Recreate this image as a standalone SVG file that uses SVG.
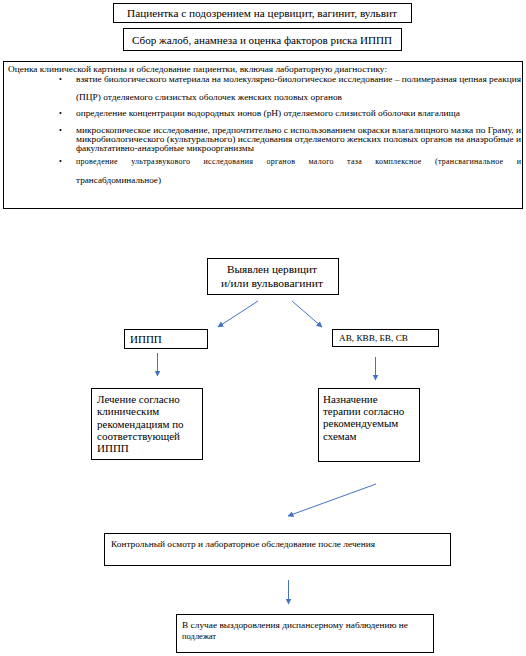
<svg xmlns="http://www.w3.org/2000/svg" width="526" height="656" viewBox="0 0 526 656">
<style>
.box{fill:#fff;stroke:#000;stroke-width:1}
.t{font-family:"Liberation Serif","DejaVu Serif","Times New Roman",serif;fill:#000}
.s11{font-size:11px}
.s9{font-size:8.5px}
.s8{font-size:8px}
.c{stroke:#4472C4;stroke-width:1;fill:none}
</style>
<defs>
<marker id="ah" viewBox="0 0 10 10" refX="9" refY="5" markerWidth="6" markerHeight="6" markerUnits="userSpaceOnUse" orient="auto">
<path d="M0,0 L10,5 L0,10 z" fill="#4472C4"/>
</marker>
</defs>
<rect width="526" height="656" fill="#fff"/>

<g id="n1">
<rect class="box" x="113.5" y="3.5" width="298" height="19"/>
<text class="t s11" x="127" y="17" textLength="270" lengthAdjust="spacingAndGlyphs">Пациентка с подозрением на цервицит, вагинит, вульвит</text>
</g>
<g id="n2">
<rect class="box" x="123.5" y="28.5" width="278" height="22"/>
<text class="t s11" x="132" y="43.5" textLength="260" lengthAdjust="spacingAndGlyphs">Сбор жалоб, анамнеза и оценка факторов риска ИППП</text>
</g>
<g id="n3">
<rect class="box" x="3.5" y="61.5" width="519" height="147"/>
<text class="t s8" x="8" y="71.5" textLength="379" lengthAdjust="spacingAndGlyphs">Оценка клинической картины и обследование пациентки, включая лабораторную диагностику:</text>
<text class="t s8" x="59" y="81.5">•</text>
<text class="t s8" x="76" y="81.5" textLength="445" lengthAdjust="spacingAndGlyphs">взятие биологического материала на молекулярно-биологическое исследование – полимеразная цепная реакция</text>
<text class="t s8" x="76" y="99.5" textLength="266" lengthAdjust="spacingAndGlyphs">(ПЦР) отделяемого слизистых оболочек женских половых органов</text>
<text class="t s8" x="59" y="116">•</text>
<text class="t s8" x="76" y="116" textLength="384" lengthAdjust="spacingAndGlyphs">определение концентрации водородных ионов (pH) отделяемого слизистой оболочки влагалища</text>
<text class="t s8" x="59" y="133">•</text>
<text class="t s8" x="76" y="133" textLength="445" lengthAdjust="spacingAndGlyphs">микроскопическое исследование, предпочтительно с использованием окраски влагалищного мазка по Граму, и</text>
<text class="t s8" x="76" y="142" textLength="445" lengthAdjust="spacingAndGlyphs">микробиологического (культурального) исследования отделяемого женских половых органов на анаэробные и</text>
<text class="t s8" x="76" y="151" textLength="178" lengthAdjust="spacingAndGlyphs">факультативно-анаэробные микроорганизмы</text>
<text class="t s8" x="59" y="164">•</text>
<text class="t s8" x="76" y="164" word-spacing="11" textLength="445" lengthAdjust="spacing">проведение ультразвукового исследования органов малого таза комплексное (трансвагинальное и</text>
<text class="t s8" x="76" y="183" textLength="85" lengthAdjust="spacingAndGlyphs">трансабдоминальное)</text>
</g>

<g id="n4">
<rect class="box" x="207.5" y="258.5" width="131" height="36"/>
<text class="t s11" x="227" y="273" textLength="90" lengthAdjust="spacingAndGlyphs">Выявлен цервицит</text>
<text class="t s11" x="221" y="287" textLength="102" lengthAdjust="spacingAndGlyphs">и/или вульвовагинит</text>
</g>
<g id="n5">
<rect class="box" x="124.5" y="329.5" width="83" height="19"/>
<text class="t s11" x="130" y="343">ИППП</text>
</g>
<g id="n6">
<rect class="box" x="332.5" y="329.5" width="106" height="17"/>
<text class="t s9" x="339" y="341" textLength="69" lengthAdjust="spacingAndGlyphs">АВ, КВВ, БВ, СВ</text>
</g>
<g id="n7">
<rect class="box" x="91.5" y="388.5" width="111" height="71"/>
<text class="t s11" x="97" y="403">Лечение согласно</text>
<text class="t s11" x="97" y="415">клиническим</text>
<text class="t s11" x="97" y="428">рекомендациям по</text>
<text class="t s11" x="97" y="440">соответствующей</text>
<text class="t s11" x="97" y="452">ИППП</text>
</g>
<g id="n8">
<rect class="box" x="318.5" y="388.5" width="101" height="73"/>
<text class="t s11" x="323" y="403">Назначение</text>
<text class="t s11" x="323" y="415">терапии согласно</text>
<text class="t s11" x="323" y="427">рекомендуемым</text>
<text class="t s11" x="323" y="440">схемам</text>
</g>
<g id="n9">
<rect class="box" x="104.5" y="533.5" width="346" height="32"/>
<text class="t s9" x="111" y="547" textLength="264" lengthAdjust="spacingAndGlyphs">Контрольный осмотр и лабораторное обследование после лечения</text>
</g>
<g id="n10">
<rect class="box" x="176.5" y="614.5" width="257" height="38"/>
<text class="t s9" x="182" y="628" textLength="226" lengthAdjust="spacingAndGlyphs">В случае выздоровления диспансерному наблюдению не</text>
<text class="t s9" x="182" y="638.5">подлежат</text>
</g>

<g id="connectors">
<line class="c" x1="258" y1="301" x2="218" y2="327" marker-end="url(#ah)"/>
<line class="c" x1="292" y1="301" x2="322" y2="327" marker-end="url(#ah)"/>
<line class="c" x1="157.5" y1="353" x2="157.5" y2="376" marker-end="url(#ah)"/>
<line class="c" x1="375.5" y1="357" x2="375.5" y2="380" marker-end="url(#ah)"/>
<line class="c" x1="376" y1="484" x2="288" y2="516" marker-end="url(#ah)"/>
<line class="c" x1="288.5" y1="580" x2="288.5" y2="604" marker-end="url(#ah)"/>
</g>
</svg>
